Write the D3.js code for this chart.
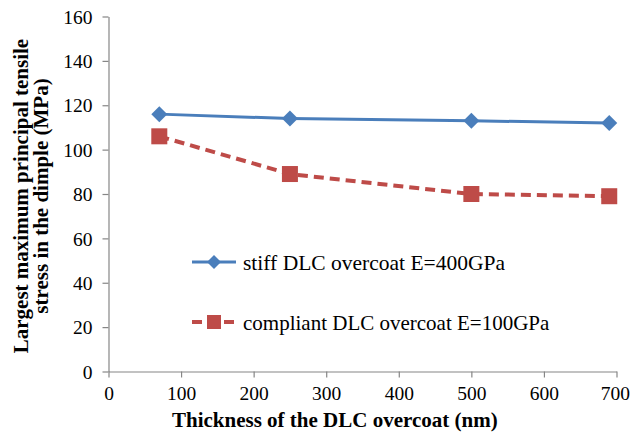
<!DOCTYPE html>
<html><head><meta charset="utf-8">
<script src="https://cdn.jsdelivr.net/npm/d3@7"></script>
<style>body{margin:0;background:#fff}svg{display:block}</style>
</head><body><div id="c"></div>
<script>
const thickness = [70, 250, 500, 690];
const stiffValues = [116, 114, 113, 112];
const compliantValues = [106, 89, 80, 79];
const xTicks = [0, 100, 200, 300, 400, 500, 600, 700];
const yTicks = [0, 20, 40, 60, 80, 100, 120, 140, 160];
const seriesNames = ["stiff DLC overcoat E=400GPa", "compliant DLC overcoat E=100GPa"];

const FONT = '"Liberation Serif","Times New Roman",serif';
const W = 630, H = 435;
const svg = d3.select("#c").append("svg").attr("width", W).attr("height", H)
  .attr("font-family", FONT);
const x = d3.scaleLinear().domain([0, 700]).range([108.5, 616.5]);
const y = d3.scaleLinear().domain([0, 160]).range([371.5, 16.5]);

const axisColor = "#868686";
const gx = svg.append("g").attr("transform", "translate(0,371.5)")
  .call(d3.axisBottom(x).tickValues(xTicks).tickSize(6).tickSizeOuter(0).tickPadding(4));
const gy = svg.append("g").attr("transform", "translate(108.5,0)")
  .call(d3.axisLeft(y).tickValues(yTicks).tickSize(6).tickSizeOuter(0).tickPadding(10));
[gx, gy].forEach(g => {
  g.attr("font-family", FONT).attr("font-size", 19.5);
  g.selectAll("path,line").attr("stroke", axisColor).attr("stroke-width", 1.2);
  g.selectAll("text").attr("fill", "#000").style("font-family", FONT);
});
gx.selectAll("text").attr("dy", "0.95em");
gx.selectAll("text").filter(d => d === 700).attr("text-anchor", "end").attr("x", 13);
gy.selectAll("text").attr("dy", "0.34em");

const blue = "#4a7ebb", red = "#be4b48";
const line = d3.line();
const stiffPts = thickness.map((t, i) => [x(t), y(stiffValues[i])]);
const compPts = thickness.map((t, i) => [x(t), y(compliantValues[i])]);

svg.append("path").attr("d", line(stiffPts)).attr("fill", "none")
  .attr("stroke", blue).attr("stroke-width", 3);
svg.append("path").attr("d", line(compPts)).attr("fill", "none")
  .attr("stroke", red).attr("stroke-width", 4).attr("stroke-dasharray", "10,6");

function diamondPath(cx, cy, r) { return `M${cx},${cy - r}L${cx + r},${cy}L${cx},${cy + r}L${cx - r},${cy}Z`; }

svg.selectAll(".dm").data(stiffPts).join("path")
  .attr("d", d => diamondPath(d[0], d[1], 8)).attr("fill", blue);
svg.selectAll(".sq").data(compPts).join("rect")
  .attr("x", d => d[0] - 8).attr("y", d => d[1] - 8).attr("width", 16).attr("height", 16).attr("fill", red);

// legend
const lg = svg.append("g").attr("font-size", 21);
lg.append("line").attr("x1", 192).attr("x2", 236).attr("y1", 262).attr("y2", 262)
  .attr("stroke", blue).attr("stroke-width", 3);
lg.append("path").attr("d", diamondPath(214, 262, 7)).attr("fill", blue);
lg.append("text").attr("x", 243).attr("y", 270).attr("textLength", 262).attr("lengthAdjust", "spacingAndGlyphs").text(seriesNames[0]);

lg.append("line").attr("x1", 192).attr("x2", 236).attr("y1", 322).attr("y2", 322)
  .attr("stroke", red).attr("stroke-width", 4).attr("stroke-dasharray", "10,6");
lg.append("rect").attr("x", 207).attr("y", 315).attr("width", 14).attr("height", 14).attr("fill", red);
lg.append("text").attr("x", 243).attr("y", 330).text(seriesNames[1]);

// axis titles
svg.append("text").attr("x", 172).attr("y", 427)
  .attr("font-size", 21).attr("font-weight", "bold").text("Thickness of the DLC overcoat  (nm)");
const yt = svg.append("text").attr("transform", "translate(0,196) rotate(-90)")
  .attr("text-anchor", "middle").attr("font-size", 21).attr("font-weight", "bold");
yt.append("tspan").attr("x", 0).attr("y", 28).text("Largest maximum principal tensile");
yt.append("tspan").attr("x", 0).attr("y", 48).text("stress in the dimple (MPa)");
</script></body></html>
